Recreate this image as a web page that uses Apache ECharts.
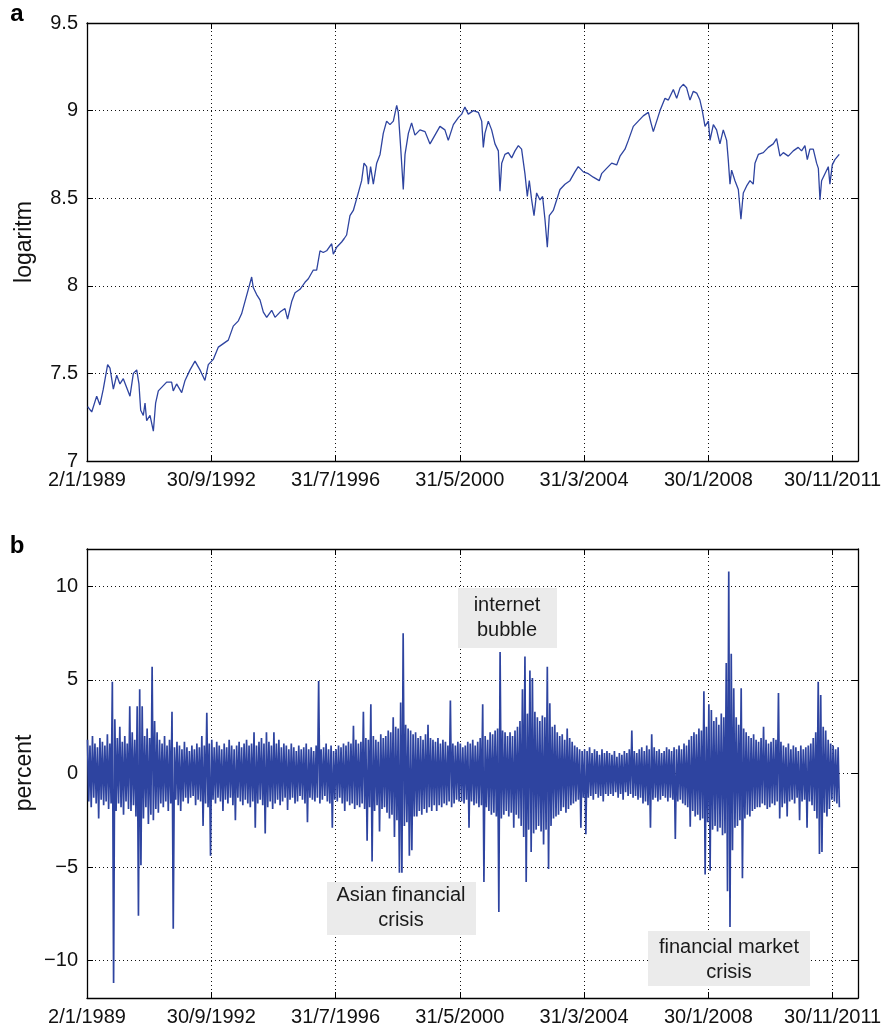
<!DOCTYPE html>
<html><head><meta charset="utf-8">
<script src="https://cdn.jsdelivr.net/npm/echarts@6/dist/echarts.min.js"></script>
<style>html,body{margin:0;padding:0;background:#fff}#c{width:887px;height:1029px}</style>
</head><body><div id="c"></div>
<script>
// tick labels (every 1000 observations)
const tickLabels = ['2/1/1989','30/9/1992','31/7/1996','31/5/2000','31/3/2004','30/1/2008','30/11/2011'];

// panel a: observation index and log level
const obsA = [5,38,78,104,131,166,185,212,239,265,292,319,346,373,400,418,432,453,467,480,507,534,552,574,614,641,681,694,721,762,789,829,869,909,949,976,1016,1057,1097,1137,1177,1218,1244,1271,1298,1325,1338,1365,1392,1419,1446,1486,1513,1553,1593,1614,1647,1674,1714,1754,1781,1821,1848,1875,1901,1928,1969,1982,2009,2049,2070,
2089,2116,2143,2156,2183,2210,2229,2250,2264,2282,2304,2331,2358,2384,2411,2438,2465,2492,2505,2524,2545,2559,2586,2612,2639,2679,2720,2760,2800,2840,2880,2907,2948,2988,3015,3041,3068,3109,3149,3176,3189,3202,3229,3256,3283,3310,3323,3337,3363,3390,3417,3444,3471,3497,3524,3543,3559,3578,3597,3618,3645,3666,3685,3704,3720,3752,3779,3806,3846,3886,3926,3953,3994,4034,4074,4122,
4141,4181,4222,4262,4289,4329,4356,4396,4436,4476,4517,4538,4557,4584,4611,4651,4678,4718,4745,4772,4798,4825,4852,4879,4906,4932,4951,4973,5000,5013,5040,5066,5093,5120,5147,5160,5174,5187,5214,5241,5262,5281,5308,5335,5361,5375,5402,5442,5482,5522,5549,5576,5603,5643,5683,5723,5750,5777,5796,5817,5844,5871,5885,5898,5911,5938,5965,5978,5997,6018,6053];
const logA = [7.31,7.28,7.37,7.32,7.41,7.55,7.53,7.41,7.49,7.44,7.47,7.42,7.37,7.50,7.52,7.44,7.29,7.26,7.33,7.23,7.26,7.17,7.33,7.40,7.43,7.45,7.45,7.40,7.44,7.39,7.46,7.52,7.57,7.52,7.46,7.55,7.58,7.65,7.67,7.69,7.77,7.80,7.84,7.91,7.98,8.05,7.99,7.95,7.92,7.85,7.82,7.86,7.82,7.85,7.87,7.81,7.91,7.96,7.98,8.02,8.04,8.09,8.09,8.20,8.19,8.20,8.24,8.18,8.22,8.25,8.27,
8.29,8.40,8.43,8.42,8.53,8.60,8.70,8.68,8.58,8.68,8.58,8.70,8.75,8.87,8.94,8.92,8.94,9.03,8.99,8.79,8.55,8.75,8.87,8.93,8.86,8.89,8.88,8.81,8.86,8.91,8.89,8.83,8.92,8.96,8.98,9.02,8.98,9.00,8.99,8.94,8.79,8.87,8.94,8.89,8.81,8.77,8.54,8.70,8.75,8.76,8.73,8.77,8.80,8.78,8.64,8.51,8.60,8.49,8.40,8.53,8.49,8.51,8.38,8.22,8.40,8.43,8.49,8.55,8.58,8.60,8.65,8.68,8.65,8.64,8.62,8.60,
8.64,8.67,8.70,8.69,8.74,8.78,8.83,8.91,8.94,8.97,8.99,8.93,8.88,8.94,9.00,9.07,9.06,9.12,9.07,9.13,9.15,9.13,9.06,9.11,9.10,9.06,9.00,8.91,8.94,8.83,8.92,8.89,8.81,8.89,8.83,8.72,8.58,8.66,8.60,8.55,8.38,8.53,8.57,8.60,8.58,8.70,8.75,8.76,8.79,8.81,8.84,8.74,8.76,8.74,8.77,8.79,8.77,8.80,8.72,8.78,8.78,8.70,8.67,8.49,8.60,8.64,8.68,8.58,8.69,8.72,8.75];

// panel b: daily returns (percent), per block of 20 observations: highest and lowest value
const bucketSize = 20;
const retHigh = [
1.8,1.5,2.0,1.6,1.4,1.9,1.7,1.5,2.1,1.6,
4.9,2.9,1.9,2.5,1.7,2.0,1.6,3.6,2.2,1.8,
3.6,4.5,3.6,2.0,2.4,1.9,5.7,2.8,2.2,1.8,
1.6,2.0,1.5,1.8,3.3,1.4,1.7,1.5,1.3,1.7,
1.4,1.2,1.5,1.3,1.6,1.4,2.0,1.5,3.25,1.6,
1.8,1.4,1.7,1.5,1.3,1.6,1.4,1.8,1.5,1.3,
1.5,1.7,1.4,1.6,1.8,1.5,1.6,2.2,1.5,1.7,
1.9,1.6,2.2,1.7,1.5,2.2,1.6,1.8,1.4,1.6,
1.5,1.3,1.6,1.4,1.2,1.5,1.3,1.4,1.6,1.3,
1.4,1.2,1.5,4.95,1.3,1.4,1.6,1.3,1.5,1.2,
1.3,1.5,1.4,1.6,1.5,1.7,1.6,2.55,1.8,1.6,
1.7,3.3,1.9,1.8,3.7,2.0,1.8,1.7,2.1,1.9,
2.0,2.3,2.2,3.0,2.5,2.4,3.8,7.5,2.6,2.4,
2.3,2.1,2.2,1.9,2.0,1.8,2.1,2.6,1.9,1.8,
1.7,1.9,1.6,1.8,1.7,1.5,3.9,1.6,1.5,1.7,
1.6,1.4,1.5,1.7,1.6,1.8,1.5,1.7,1.9,3.7,
2.0,1.8,2.2,2.1,2.3,2.4,6.5,2.3,2.2,2.0,
2.2,2.0,2.3,2.5,2.8,4.5,6.25,3.2,5.5,5.1,
3.3,3.0,2.8,3.1,3.0,5.7,3.75,2.5,2.6,2.2,
2.0,2.1,1.8,2.4,1.9,1.7,1.5,1.4,1.3,1.2,
1.3,1.2,1.4,1.1,1.3,1.2,1.0,1.3,1.1,1.2,
1.1,1.0,1.2,0.9,1.1,1.0,1.2,1.1,1.3,2.3,
1.2,1.1,1.3,1.4,1.2,1.5,1.3,2.1,1.4,1.2,
1.3,1.1,1.2,1.4,1.3,1.2,1.4,1.3,1.5,1.3,
1.6,1.5,1.8,2.0,2.2,2.1,2.4,2.3,4.4,2.5,
3.7,3.4,2.8,3.0,2.6,3.2,3.0,5.9,10.8,6.4,
4.55,3.0,2.6,4.55,2.4,2.2,2.0,1.9,2.1,1.8,
1.7,1.9,2.5,1.8,1.6,1.7,1.9,1.8,4.3,1.7,
1.5,1.4,1.6,1.3,1.5,1.4,1.2,1.5,1.3,1.4,
1.5,1.6,1.9,2.2,4.9,4.2,2.5,2.3,1.8,1.6,
1.5,1.3,1.4];
const retLow = [
-1.5,-1.8,-1.3,-1.6,-2.4,-1.4,-1.7,-1.5,-1.9,-1.6,
-11.2,-2.0,-1.6,-1.8,-2.2,-1.5,-1.9,-2.0,-1.7,-2.3,
-7.6,-4.9,-2.4,-1.8,-2.7,-2.2,-2.5,-1.9,-2.1,-1.6,
-1.8,-1.5,-2.0,-1.6,-8.3,-1.4,-1.7,-2.0,-1.5,-1.3,
-1.6,-1.3,-1.2,-1.7,-1.4,-1.5,-2.8,-1.6,-1.8,-4.4,
-1.4,-1.6,-1.3,-1.5,-2.0,-1.4,-1.6,-1.3,-1.7,-2.5,
-1.3,-1.5,-1.7,-1.4,-1.6,-1.8,-1.5,-2.9,-1.6,-1.4,
-1.7,-3.2,-1.8,-1.5,-1.9,-1.6,-1.4,-1.7,-1.5,-1.3,
-1.95,-1.4,-1.3,-1.6,-1.5,-1.2,-1.4,-1.6,-2.6,-1.3,
-1.4,-1.5,-1.3,-1.6,-1.4,-1.2,-1.5,-1.6,-2.9,-1.4,
-1.5,-1.3,-1.6,-2.0,-1.5,-1.7,-1.6,-1.9,-1.7,-1.8,
-1.6,-1.9,-3.6,-1.8,-4.7,-2.0,-1.7,-3.1,-1.9,-1.8,
-2.1,-2.4,-2.2,-3.4,-2.5,-5.3,-5.3,-2.8,-2.6,-4.4,
-4.1,-2.3,-2.3,-2.0,-2.2,-1.9,-2.1,-1.8,-2.0,-1.7,
-2.0,-1.7,-1.8,-1.6,-1.7,-1.5,-1.8,-1.6,-1.4,-1.5,
-1.5,-1.6,-1.4,-2.9,-1.5,-1.7,-1.6,-1.8,-1.7,-5.8,
-1.8,-2.0,-2.2,-2.1,-2.3,-7.4,-2.4,-2.2,-2.0,-2.3,
-2.1,-2.9,-2.2,-2.4,-2.8,-3.4,-5.8,-3.0,-4.2,-3.2,
-3.0,-2.8,-3.1,-3.8,-3.0,-5.1,-2.8,-2.4,-2.3,-2.2,
-2.0,-1.8,-2.1,-1.9,-1.7,-1.6,-1.5,-1.4,-2.9,-1.3,
-3.25,-1.3,-1.2,-1.4,-1.1,-1.3,-1.2,-1.5,-1.1,-1.2,
-1.1,-1.2,-1.0,-1.3,-1.1,-1.4,-1.0,-1.2,-1.1,-1.3,
-1.2,-1.4,-1.3,-1.6,-1.5,-1.7,-2.9,-1.4,-1.3,-1.5,
-1.4,-1.2,-1.3,-1.5,-1.3,-1.4,-3.5,-1.5,-1.4,-1.6,
-1.7,-1.8,-2.85,-2.0,-2.3,-2.2,-2.5,-2.4,-5.4,-2.6,
-5.2,-3.0,-2.8,-3.1,-2.9,-3.3,-3.2,-6.3,-8.2,-4.1,
-2.9,-2.8,-2.5,-5.6,-2.4,-2.2,-2.3,-2.0,-1.9,-1.8,
-1.8,-1.6,-1.7,-1.9,-1.8,-1.6,-1.7,-1.5,-2.4,-1.8,
-1.6,-2.3,-1.5,-1.4,-1.6,-1.3,-2.5,-1.5,-1.4,-2.9,
-1.5,-1.7,-2.0,-2.4,-4.3,-4.2,-2.1,-2.3,-1.9,-1.4,
-1.5,-1.6,-1.8];

const annotations = [
  {lines:['internet','bubble']},
  {lines:['Asian financial','crisis']},
  {lines:['financial market','crisis']}
];

const FONT = "'Liberation Sans', Arial, Helvetica, sans-serif";
const BLUE = '#2e44a0';

const seriesA = obsA.map((o, i) => [o, logA[i]]);
const seriesB = [];
retHigh.forEach((h, i) => {
  seriesB.push([i * bucketSize + 4, h]);
  seriesB.push([i * bucketSize + 14, retLow[i]]);
});

const fmtNum = v => (v < 0 ? '\u2212' + Math.abs(v) : String(v));

function xAx(gridIndex, pos) {
  const bottom = pos === 'bottom';
  return {
    type: 'value', gridIndex, position: pos, min: 0, max: 6204, interval: 1000,
    axisLine: {show: true, onZero: false, lineStyle: {color: '#000', width: 1.3}},
    axisTick: {show: true, inside: true, length: 6, lineStyle: {color: '#000', width: 1}},
    axisLabel: {show: bottom, margin: 9, fontSize: 20, fontFamily: FONT, color: '#111',
      showMinLabel: true, showMaxLabel: false,
      formatter: v => (v % 1000 === 0 && v / 1000 < tickLabels.length) ? tickLabels[v / 1000] : ''},
    splitLine: {show: bottom, lineStyle: {type: [1, 3], color: '#111', width: 1}}
  };
}
function yAx(gridIndex, pos, extra, fmt) {
  const left = pos === 'left';
  return Object.assign({
    type: 'value', gridIndex, position: pos,
    axisLine: {show: true, onZero: false, lineStyle: {color: '#000', width: 1.3}},
    axisTick: {show: true, inside: true, length: 6, lineStyle: {color: '#000', width: 1}},
    axisLabel: {show: left, margin: 9, fontSize: 20, fontFamily: FONT, color: '#111', formatter: fmt},
    splitLine: {show: left, lineStyle: {type: [1, 3], color: '#111', width: 1}}
  }, extra);
}

const fmtA = v => String(v);
const fmtB = v => (v % 5 === 0 ? fmtNum(v) : '');

const boxes = [
  {x: 458, y: 588, w: 99, h: 60, cx: 507, ty: 605, ann: annotations[0]},
  {x: 327, y: 882, w: 149, h: 53, cx: 401, ty: 895, ann: annotations[1]},
  {x: 648, y: 931, w: 162, h: 55, cx: 729, ty: 947, ann: annotations[2]}
];
const graphics = [];
boxes.forEach(b => {
  graphics.push({type: 'rect', z: 100, shape: {x: b.x, y: b.y, width: b.w, height: b.h}, style: {fill: '#ebebeb'}});
  b.ann.lines.forEach((t, k) => {
    graphics.push({type: 'text', z: 101, x: b.cx, y: b.ty + k * 25,
      style: {text: t, font: '20px ' + FONT, fill: '#1a1a1a', textAlign: 'center', textVerticalAlign: 'middle'}});
  });
});
graphics.push({type: 'text', x: 25, y: 242, rotation: Math.PI / 2,
  style: {text: 'logaritm', font: '23px ' + FONT, fill: '#111', textAlign: 'center', textVerticalAlign: 'middle'}});
graphics.push({type: 'text', x: 25, y: 773, rotation: Math.PI / 2,
  style: {text: 'percent', font: '23px ' + FONT, fill: '#111', textAlign: 'center', textVerticalAlign: 'middle'}});
graphics.push({type: 'text', x: 17, y: 14,
  style: {text: 'a', font: 'bold 24px ' + FONT, fill: '#000', textAlign: 'center', textVerticalAlign: 'middle'}});
graphics.push({type: 'text', x: 17, y: 546,
  style: {text: 'b', font: 'bold 24px ' + FONT, fill: '#000', textAlign: 'center', textVerticalAlign: 'middle'}});

const chart = echarts.init(document.getElementById('c'), null, {renderer: 'canvas'});
chart.setOption({
  animation: false,
  backgroundColor: '#fff',
  grid: [
    {left: 87, top: 23, width: 771, height: 438},
    {left: 87, top: 549, width: 771, height: 449}
  ],
  xAxis: [xAx(0, 'bottom'), xAx(0, 'top'), xAx(1, 'bottom'), xAx(1, 'top')],
  yAxis: [
    yAx(0, 'left', {min: 7, max: 9.5, interval: 0.5}, fmtA),
    yAx(0, 'right', {min: 7, max: 9.5, interval: 0.5}, fmtA),
    yAx(1, 'left', {min: -12, max: 12, splitNumber: 5}, fmtB),
    yAx(1, 'right', {min: -12, max: 12, splitNumber: 5}, fmtB)
  ],
  series: [
    {type: 'line', xAxisIndex: 0, yAxisIndex: 0, data: seriesA, showSymbol: false, symbol: 'none',
      lineStyle: {color: BLUE, width: 1.3}, z: 5},
    {type: 'line', xAxisIndex: 2, yAxisIndex: 2, data: seriesB, showSymbol: false, symbol: 'none',
      lineStyle: {color: BLUE, width: 1.7}, z: 5, sampling: null}
  ],
  graphic: graphics
});
</script>
</body></html>
